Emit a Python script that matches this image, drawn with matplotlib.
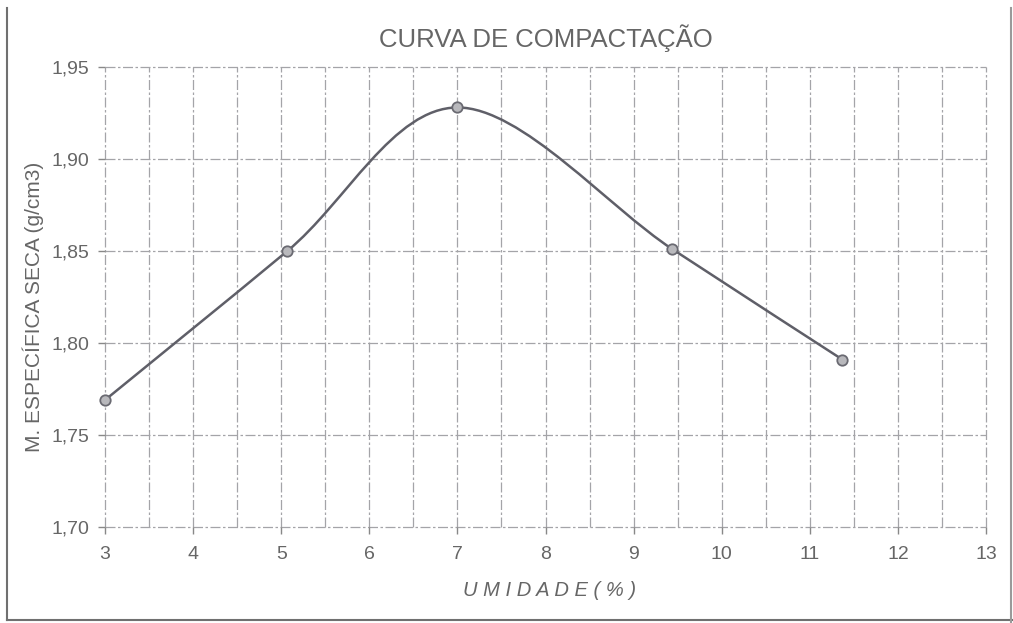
import numpy as np
import matplotlib
matplotlib.use("Agg")
import matplotlib.pyplot as plt
from matplotlib.path import Path
from matplotlib.patches import PathPatch
from matplotlib.lines import Line2D

# ---- data ----
umidade = [3.0, 5.07, 7.0, 9.44, 11.37]
massa_especifica = [1.769, 1.850, 1.928, 1.851, 1.791]
x_ticks = [3, 4, 5, 6, 7, 8, 9, 10, 11, 12, 13]
y_ticks = [1.70, 1.75, 1.80, 1.85, 1.90, 1.95]
y_tick_labels = ["1,70", "1,75", "1,80", "1,85", "1,90", "1,95"]
title = "CURVA DE COMPACTAÇÃO"
xlabel = "U M I D A D E ( % )"
ylabel = "M. ESPECÍFICA SECA (g/cm3)"

plt.rcParams['font.family'] = ['Liberation Sans', 'DejaVu Sans']
txt = '#666666'
grid_c = '#a4a4a8'

fig = plt.figure(figsize=(10.13, 6.23), dpi=100)
fig.patch.set_facecolor('white')
ax = fig.add_axes([105/1013, 1-527/623, (986-105)/1013, (527-67)/623])
ax.set_xlim(3, 13)
ax.set_ylim(1.70, 1.95)
for s in ax.spines.values():
    s.set_visible(False)

# grid
for gx in np.arange(3, 13.01, 0.5):
    ax.axvline(gx, color=grid_c, lw=0.9, ls=(0, (8, 2, 2, 2)), zorder=1, clip_on=False)
for gy in y_ticks:
    ax.axhline(gy, color=grid_c, lw=0.9, ls=(0, (8, 2, 2, 2)), zorder=1, clip_on=False)

ax.set_xticks(x_ticks)
ax.set_xticklabels([str(v) for v in x_ticks])
ax.set_yticks(y_ticks)
ax.set_yticklabels(y_tick_labels)
ax.tick_params(axis='both', colors='#888888', labelcolor=txt, labelsize=14,
               length=5, width=1, direction='out')
ax.tick_params(axis='x', pad=9)
ax.tick_params(axis='y', pad=6)

# smoothed curve (Catmull-Rom style bezier, like spreadsheet smoothing)
pts = np.column_stack([umidade, massa_especifica])
n = len(pts)
verts = [tuple(pts[0])]
codes = [Path.MOVETO]
for i in range(n - 1):
    p0 = pts[i - 1] if i > 0 else pts[i]
    p1 = pts[i]
    p2 = pts[i + 1]
    p3 = pts[i + 2] if i + 2 < n else pts[i + 1]
    c1 = p1 + (p2 - p0) / 6.0
    c2 = p2 - (p3 - p1) / 6.0
    verts += [tuple(c1), tuple(c2), tuple(p2)]
    codes += [Path.CURVE4] * 3
ax.add_patch(PathPatch(Path(verts, codes), fill=False, edgecolor='#5f5f68', lw=1.8, zorder=3))
ax.plot(umidade, massa_especifica, ls='none', marker='o', ms=7.5,
        mfc='#b8b8bc', mec='#6a6a72', mew=1.3, zorder=4, clip_on=False)

fig.text(546/1013, 1-38/623, title, ha='center', va='center', fontsize=18.5, color=txt)
fig.text(550/1013, 1-590/623, xlabel, ha='center', va='center', fontsize=14.5,
         color=txt, fontstyle='italic')
fig.text(33/1013, 1-307/623, ylabel, ha='center', va='center', fontsize=15,
         color=txt, rotation=90)

# page border lines
def fline(x0, y0, x1, y1, c='#707070'):
    fig.add_artist(Line2D([x0/1013, x1/1013], [1-y0/623, 1-y1/623],
                          transform=fig.transFigure, color=c, lw=1.5))
fline(7, 8, 7, 620)
fline(7, 620, 1013, 620)
fline(1011, 8, 1011, 623, '#9a9a9a')

fig.savefig('out.png', dpi=100, facecolor='white')
